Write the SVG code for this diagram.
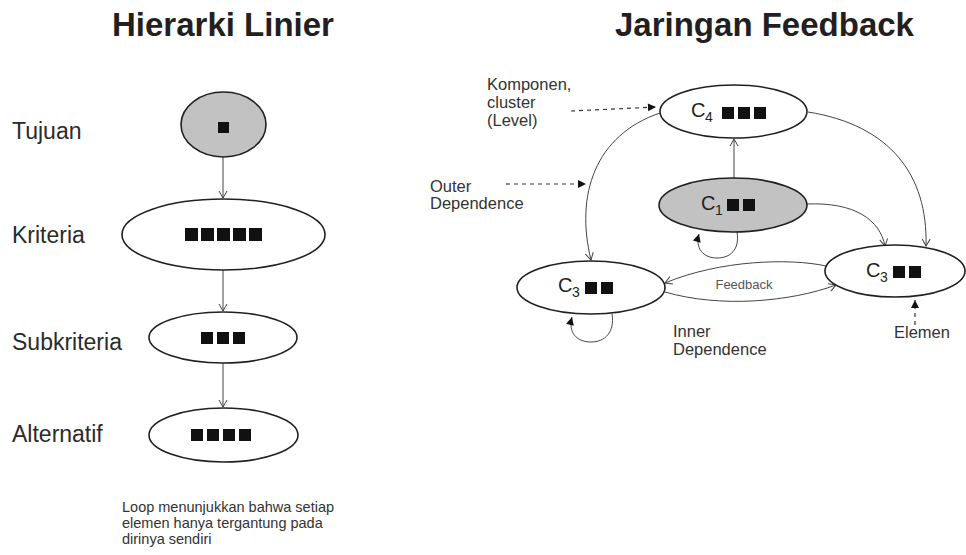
<svg xmlns="http://www.w3.org/2000/svg" width="966" height="555" viewBox="0 0 966 555">
<style>
text{font-family:"Liberation Sans",Arial,sans-serif;fill:#231f20}
.title{font-size:33px;font-weight:bold}
.lvl{font-size:23px;fill:#2b2b2b}
.lbl{font-size:16.5px;fill:#333}
.note{font-size:14.5px;fill:#333}
.cl{font-size:20px}
.sub{font-size:14px}
.node{stroke:#231f20;stroke-width:1.6}
.w{fill:#fff}
.g{fill:#c2c2c2}
.sq{fill:#111}
.con{fill:none;stroke:#444;stroke-width:1}
.dash{fill:none;stroke:#333;stroke-width:1.2;stroke-dasharray:4 4}
</style>
<defs>
<marker id="open" viewBox="-10 -6 12 12" refX="0" refY="0" markerWidth="12" markerHeight="12" markerUnits="userSpaceOnUse" orient="auto">
<path d="M-7,-4 L0,0 L-7,4" fill="none" stroke="#444" stroke-width="1"/>
</marker>
<marker id="tri" viewBox="-10 -6 12 12" refX="0" refY="0" markerWidth="12" markerHeight="12" markerUnits="userSpaceOnUse" orient="auto">
<path d="M-8,-4 L0,0 L-8,4 Z" fill="#111"/>
</marker>
</defs>
<rect width="966" height="555" fill="#fff"/>

<text class="title" x="112" y="36">Hierarki Linier</text>
<text class="title" x="615" y="36">Jaringan Feedback</text>

<text class="lvl" x="12" y="139">Tujuan</text>
<text class="lvl" x="12" y="243">Kriteria</text>
<text class="lvl" x="12" y="350">Subkriteria</text>
<text class="lvl" x="12" y="442">Alternatif</text>

<text class="note" x="122" y="512">Loop menunjukkan bahwa setiap</text>
<text class="note" x="122" y="528">elemen hanya tergantung pada</text>
<text class="note" x="122" y="544">dirinya sendiri</text>

<g id="connectors">
<path class="con" d="M223 157 L223 198" marker-end="url(#open)"/>
<path class="con" d="M223 270 L223 311" marker-end="url(#open)"/>
<path class="con" d="M223 363 L223 407" marker-end="url(#open)"/>
<path class="con" d="M734 178 L734 139" marker-end="url(#open)"/>
<path class="con" d="M807 204 C855 202 880 220 885 246" marker-end="url(#open)"/>
<path class="con" d="M808 112 C890 125 928 175 926 246" marker-end="url(#open)"/>
<path class="con" d="M660 113 C595 135 575 195 591 260" marker-end="url(#open)"/>
<path class="con" d="M826 266 C790 258 720 260 665 283" marker-end="url(#open)"/>
<path class="con" d="M665 292 C720 308 790 302 836 285" marker-end="url(#open)"/>
<path class="con" d="M737 232 C740 250 730 258 717 258 C703 258 695 248 699 234" marker-end="url(#tri)"/>
<path class="con" d="M612 314 C615 332 605 342 591 342 C576 342 568 332 572 317" marker-end="url(#tri)"/>
<path class="dash" d="M571 111 L656 107" marker-end="url(#tri)"/>
<path class="dash" d="M506 184 L586 184" marker-end="url(#tri)"/>
<path class="dash" d="M915 325 L915 300" marker-end="url(#tri)"/>
</g>

<g id="tujuan">
<ellipse class="node g" cx="223.5" cy="124.5" rx="42.5" ry="32.5"/>
<rect class="sq" x="218" y="122" width="11" height="11"/>
</g>
<g id="kriteria">
<ellipse class="node w" cx="223.5" cy="234.5" rx="101.5" ry="35.5"/>
<rect class="sq" x="185" y="228" width="13" height="13"/>
<rect class="sq" x="201" y="228" width="13" height="13"/>
<rect class="sq" x="217" y="228" width="13" height="13"/>
<rect class="sq" x="233" y="228" width="13" height="13"/>
<rect class="sq" x="249" y="228" width="13" height="13"/>
</g>
<g id="subkriteria">
<ellipse class="node w" cx="223" cy="337.5" rx="74" ry="25.5"/>
<rect class="sq" x="201" y="332" width="12" height="12"/>
<rect class="sq" x="217" y="332" width="12" height="12"/>
<rect class="sq" x="233" y="332" width="12" height="12"/>
</g>
<g id="alternatif">
<ellipse class="node w" cx="223.5" cy="435" rx="74.5" ry="27"/>
<rect class="sq" x="191" y="429" width="12" height="12"/>
<rect class="sq" x="207" y="429" width="12" height="12"/>
<rect class="sq" x="223" y="429" width="12" height="12"/>
<rect class="sq" x="239" y="429" width="12" height="12"/>
</g>

<g id="c4">
<ellipse class="node w" cx="733.5" cy="111.5" rx="73.5" ry="26.5"/>
<text class="cl" x="691" y="117">C</text><text class="sub" x="705" y="122">4</text>
<rect class="sq" x="722" y="107" width="12" height="12"/>
<rect class="sq" x="738" y="107" width="12" height="12"/>
<rect class="sq" x="754" y="107" width="12" height="12"/>
</g>
<g id="c1">
<ellipse class="node g" cx="733" cy="205" rx="74" ry="27"/>
<text class="cl" x="701" y="210">C</text><text class="sub" x="715" y="215">1</text>
<rect class="sq" x="727" y="199" width="12" height="12"/>
<rect class="sq" x="743" y="199" width="12" height="12"/>
</g>
<g id="c3-left">
<ellipse class="node w" cx="591" cy="287.5" rx="74" ry="26.5"/>
<text class="cl" x="558" y="292">C</text><text class="sub" x="572" y="297">3</text>
<rect class="sq" x="585" y="282" width="12" height="12"/>
<rect class="sq" x="601" y="282" width="12" height="12"/>
</g>
<g id="c3-right">
<ellipse class="node w" cx="895" cy="271" rx="70" ry="26"/>
<text class="cl" x="866" y="277">C</text><text class="sub" x="880" y="282">3</text>
<rect class="sq" x="893" y="266" width="12" height="12"/>
<rect class="sq" x="909" y="266" width="12" height="12"/>
</g>

<g id="labels">
<text class="lbl" x="487" y="90">Komponen,</text>
<text class="lbl" x="487" y="108">cluster</text>
<text class="lbl" x="487" y="126">(Level)</text>
<text class="lbl" x="430" y="192">Outer</text>
<text class="lbl" x="430" y="209">Dependence</text>
<text class="lbl" x="673" y="337">Inner</text>
<text class="lbl" x="673" y="355">Dependence</text>
<text class="lbl" x="894" y="338">Elemen</text>
<text x="744" y="289" text-anchor="middle" style="font-size:13px;fill:#555">Feedback</text>
</g>
</svg>
